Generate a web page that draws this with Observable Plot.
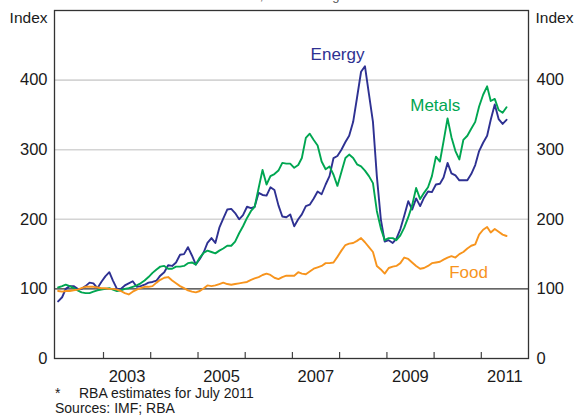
<!DOCTYPE html>
<html><head><meta charset="utf-8">
<script src="https://cdn.jsdelivr.net/npm/d3@7"></script>
<script src="https://cdn.jsdelivr.net/npm/@observablehq/plot@0.6"></script>
<style>
body{margin:0;background:#fff;font-family:Arial,"Liberation Sans",sans-serif;}
#chart svg{display:block;overflow:visible}
.note{font-size:14px;line-height:15.7px;color:#1a1a1a;margin-left:55px;white-space:nowrap}
</style></head><body>
<div id="chart"></div>
<div style="padding-top:3.5px">
<div class="note"><span style="display:inline-block;width:24px">*</span>RBA estimates for July 2011</div>
<div class="note">Sources: IMF; RBA</div>
</div>
<script>
// Monthly index values, Jan 2002 – Jul 2011 (2000 average = 100)
const energy = [82,88,100,104,104,100,100,104,109,108,101,110,118,124,112,100,100,105,108,111,103,104,106,109,
110,112,119,124,134,133,138,149,150,160,148,135,143,153,166,173,166,188,201,214,215,209,200,206,
218,216,218,238,235,234,246,242,220,204,203,207,190,200,207,219,221,230,240,236,250,262,288,291,
300,311,320,340,375,412,420,380,340,262,200,168,170,166,172,186,205,226,214,230,219,231,240,239,
250,251,260,281,266,263,256,256,256,265,278,298,310,320,343,365,344,337,343];
const metals = [102,104,106,104,101,98,95,94,94,96,98,99,100,101,99,97,98,100,101,103,105,108,112,117,
123,128,132,133,129,129,132,132,133,137,138,135,145,152,155,153,151,155,158,162,162,168,180,190,
202,212,218,245,271,250,262,265,270,281,280,280,274,278,288,317,323,314,306,283,272,276,264,248,
268,288,293,288,279,276,270,262,252,212,187,170,173,173,170,177,188,203,220,245,229,238,246,262,
290,283,312,345,318,298,286,314,320,330,340,362,379,391,370,373,357,353,361];
const food = [97,96,97,97,98,99,101,103,103,103,102,101,101,100,100,99,97,94,92,96,99,101,103,103,
104,109,113,116,117,112,108,104,101,98,96,95,97,101,105,104,105,107,109,107,106,107,108,109,
110,113,115,117,120,122,120,116,114,117,119,119,119,124,122,121,125,129,131,133,137,137,138,146,
155,163,165,166,169,173,167,160,153,133,128,122,130,132,133,137,145,143,138,133,129,130,133,137,
138,139,142,145,147,145,150,153,158,162,164,178,185,189,181,186,182,178,176];

const seriesNames = ["Energy", "Metals", "Food"];
const seriesColors = ["#2e3192", "#00a651", "#f7941d"];
const yTicks = [0, 100, 200, 300, 400];
const yearTicks = [2003, 2004, 2005, 2006, 2007, 2008, 2009, 2010, 2011];
const yearLabels = [2003, 2005, 2007, 2009, 2011];
const subtitle = "US dollars, 2000 average = 100";
const labelNames = ["Energy", "Metals", "Food"];
const labelDates = [[2007, 11, 16], [2010, 0, 10], [2010, 8, 24]];
const labelValues = [429, 356, 116];

const rows = [];
[energy, metals, food].forEach((arr, s) => {
  arr.forEach((v, i) => rows.push({date: new Date(Date.UTC(2002, i, 15)), series: seriesNames[s], value: v}));
});
const lineLabels = labelNames.map((n, i) => ({name: n, date: new Date(Date.UTC(...labelDates[i])), value: labelValues[i]}));

const chart = Plot.plot({
  width: 579, height: 382,
  marginTop: 10, marginBottom: 24, marginLeft: 54, marginRight: 51,
  style: {fontFamily: 'Arial, "Liberation Sans", sans-serif', fontSize: "16.5px", color: "#1a1a1a", background: "white", overflow: "visible"},
  x: {type: "utc", domain: [new Date(Date.UTC(2001, 11, 18)), new Date(Date.UTC(2012, 0, 1))]},
  y: {domain: [0, 500]},
  color: {domain: seriesNames, range: seriesColors},
  marks: [
    Plot.ruleY([200, 300, 400], {stroke: "#d4d4d4", strokeWidth: 1.6}),
    Plot.ruleY([100], {stroke: "#333", strokeWidth: 1.3}),
    Plot.ruleX(yearTicks.map(y => new Date(Date.UTC(y, 0, 1))), {y1: 0, y2: 8.6, stroke: "#444", strokeWidth: 1.2}),
    Plot.line(rows, {x: "date", y: "value", z: "series", stroke: "series", strokeWidth: 1.9}),
    Plot.frame({stroke: "#333", strokeWidth: 1.3}),
    Plot.axisX(yearLabels.map(y => new Date(Date.UTC(y, 6, 2))), {tickSize: 0, tickPadding: 12, tickFormat: d => String(d.getUTCFullYear()), label: null}),
    Plot.axisY(yTicks, {anchor: "left", tickSize: 0, tickPadding: 7, label: null}),
    Plot.axisY(yTicks, {anchor: "right", tickSize: 0, tickPadding: 8, label: null}),
    Plot.text(["Index"], {frameAnchor: "top-left", textAnchor: "end", lineAnchor: "bottom", dx: -7, dy: 12.7, fontSize: 15.5, fill: "#1a1a1a"}),
    Plot.text(["Index"], {frameAnchor: "top-right", textAnchor: "start", lineAnchor: "bottom", dx: 7, dy: 12.7, fontSize: 15.5, fill: "#1a1a1a"}),
    Plot.text([subtitle], {frameAnchor: "top", lineAnchor: "bottom", dy: -10.5, fontSize: 13, fill: "#555"}),
    Plot.text(lineLabels, {x: "date", y: "value", text: "name", fill: "name", lineAnchor: "bottom", fontSize: 17})
  ]
});
document.getElementById("chart").appendChild(chart);
</script>
</body></html>
